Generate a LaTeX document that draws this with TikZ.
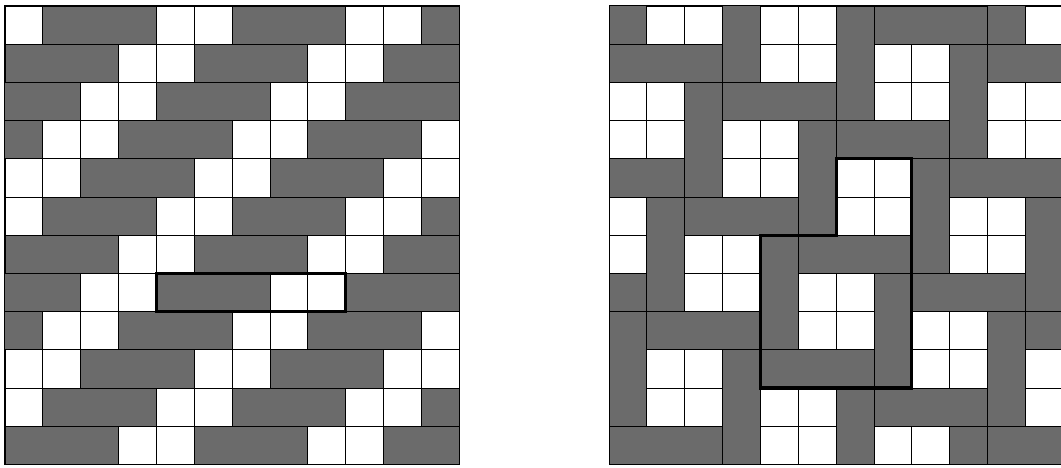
\documentclass[tikz,border=0pt]{standalone}
\usepackage{tikz}

\begin{document}
\begin{tikzpicture}[x=37.85pt,y=-38.2pt]
  \tikzstyle{bar}=[draw=black,line width=0.8pt,fill=black!58]
  \tikzstyle{sq}=[draw=black,line width=0.8pt,fill=white]
  \tikzstyle{frame}=[draw=black,line width=1pt]
  \tikzstyle{outline}=[draw=black,line width=3.2pt,line join=miter]
  \useasboundingbox (0,0) rectangle (28.032,12.251);
  \clip (0,0) rectangle (28.032,12.251);
  % left grid: rows of 1x3 bars and pairs of squares
  \begin{scope}[shift={(0.132,0.157)}]
    \begin{scope}
      \clip (0,0) rectangle (12,12);
      \foreach \r in {0,...,11}{
        \pgfmathtruncatemacro\sz{mod(26-\r,5)-5}
        \foreach \k in {0,...,3}{
          \pgfmathtruncatemacro\s{\sz+5*\k}
          \draw[bar] (\s,\r) rectangle ++(3,1);
          \draw[sq] (\s+3,\r) rectangle ++(1,1);
          \draw[sq] (\s+4,\r) rectangle ++(1,1);
        }
      }
    \end{scope}
    \draw[frame] (0,0) rectangle (12,12);
    \draw[outline] (4,7) rectangle (9,8);
  \end{scope}
  % right grid: 2x2 squares with bars around them
  \begin{scope}[shift={(16.09,0.157)}]
    \begin{scope}
      \clip (0,0) rectangle (12,12);
      \foreach \a in {-3,...,4}{
        \foreach \b in {-2,...,5}{
          \pgfmathtruncatemacro\px{4+3*\a-\b}
          \pgfmathtruncatemacro\py{\a+3*\b}
          \draw[bar] (\px,\py-1) rectangle ++(3,1);
          \draw[bar] (\px+2,\py) rectangle ++(1,3);
          \foreach \i/\j in {0/0,1/0,0/1,1/1}
            \draw[sq] (\px+\i,\py+\j) rectangle ++(1,1);
        }
      }
    \end{scope}
    \draw[frame] (0,0) rectangle (12,12);
    \draw[outline] (6,4) -- (8,4) -- (8,10) -- (4,10) -- (4,6) -- (6,6) -- cycle;
  \end{scope}
\end{tikzpicture}
\end{document}
